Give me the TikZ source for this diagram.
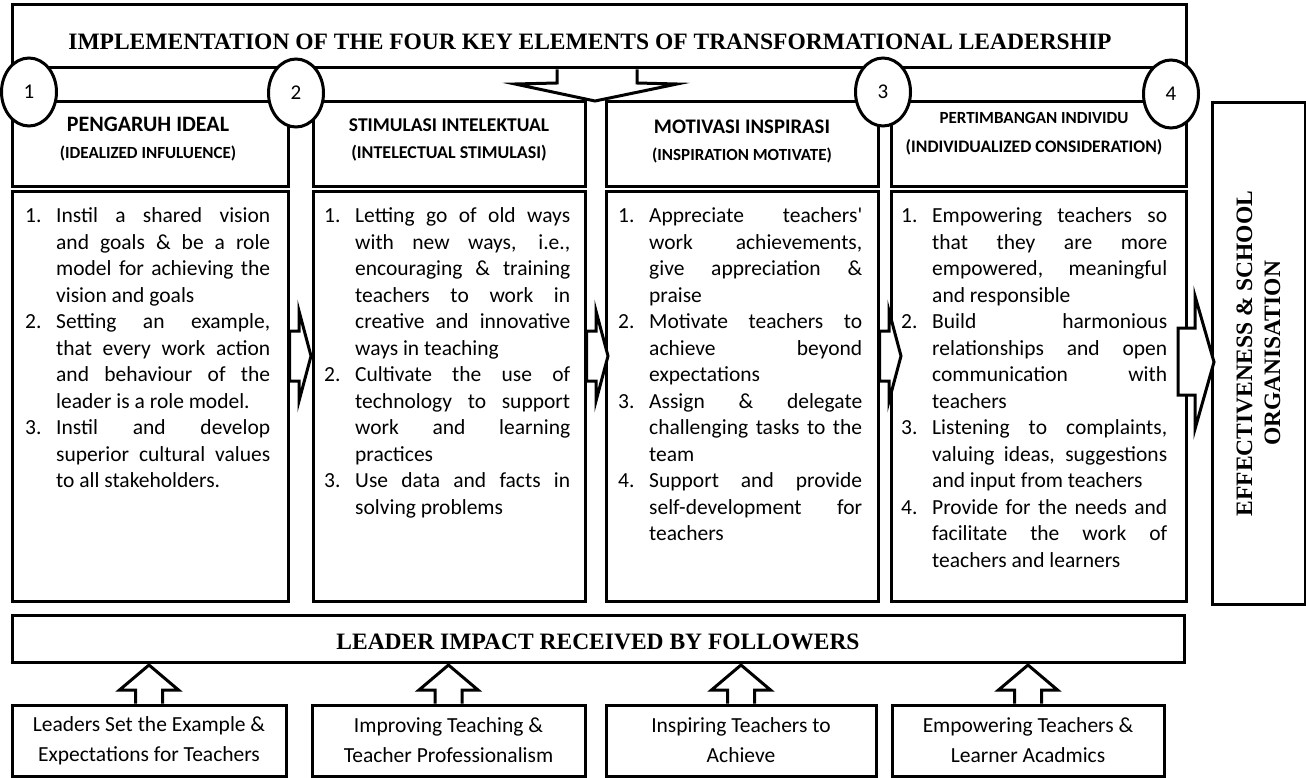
\documentclass[tikz,border=0pt]{standalone}
\usepackage{fontspec}
\setmainfont{Carlito}
\newfontfamily\timesfont{Liberation Serif}
\usepackage{enumitem}
\usetikzlibrary{calc}
\usetikzlibrary{positioning}
\usetikzlibrary{shapes.geometric}

\tolerance=10000
\hbadness=10000
\hyphenpenalty=10000
\exhyphenpenalty=10000

\newcommand{\bodyfont}{\fontsize{21.5}{26.5}\selectfont}
\newcommand{\footfont}{\fontsize{21.5}{30}\selectfont}
\newcommand{\bigtitle}{\timesfont\bfseries\fontsize{23.5}{28}\selectfont}
\setlist[enumerate]{label=\arabic*.,leftmargin=31pt,labelwidth=20pt,labelsep=11pt,align=left,topsep=0pt,partopsep=0pt,itemsep=0pt,parsep=0pt}

\tikzset{
  frame/.style={draw, line width=3pt, fill=white, inner sep=0pt, outer sep=0pt},
  ring/.style={ellipse, draw, line width=3pt, fill=white, minimum width=55, minimum height=68, inner sep=0pt, font=\fontsize{21}{24}\selectfont},
  fatarrow/.style={draw, line width=3pt, fill=white, line join=miter},
  listtext/.style={anchor=north west, inner sep=0pt, align=justify, text width=#1, font=\bodyfont},
  headtxt/.style={anchor=base, inner sep=0pt},
}

\begin{document}
\begin{tikzpicture}[x=1pt,y=-1pt]
\useasboundingbox (0,0) rectangle (1306,778);

% top banner
\node[frame, minimum width=1174, minimum height=63] (banner) at (599,36.5) {};
\node[font=\bigtitle, inner sep=0pt] (bannertxt) at (590,41.5) {IMPLEMENTATION OF THE FOUR KEY ELEMENTS OF TRANSFORMATIONAL LEADERSHIP};
\draw[fatarrow] ($(banner.south)+(-42,1.5)$) -- ($(banner.south)+(-42,15)$) -- ($(banner.south)+(-84,16)$) -- ($(banner.south)+(-4,33)$) -- ($(banner.south)+(78,16)$) -- ($(banner.south)+(38,15)$) -- ($(banner.south)+(38,1.5)$);

% header boxes
\node[frame, minimum width=276, minimum height=85] (head1) at (150,144.5) {};
\node[frame, minimum width=272, minimum height=85] (head2) at (449,144.5) {};
\node[frame, minimum width=272, minimum height=85] (head3) at (742,144.5) {};
\node[frame, minimum width=295, minimum height=85] (head4) at (1038.5,144.5) {};

\node[headtxt, font=\bfseries\fontsize{22}{26}\selectfont] (head1top) at (148,132) {PENGARUH IDEAL};
\node[headtxt, font=\bfseries\fontsize{17}{20}\selectfont] (head1sub) at (148,158.5) {(IDEALIZED INFULUENCE)};
\node[headtxt, font=\bfseries\fontsize{19.5}{23}\selectfont] (head2top) at (449,131.5) {STIMULASI INTELEKTUAL};
\node[headtxt, font=\bfseries\fontsize{18}{21}\selectfont] (head2sub) at (449,158.5) {(INTELECTUAL STIMULASI)};
\node[headtxt, font=\bfseries\fontsize{20.7}{24}\selectfont] (head3top) at (742,133.5) {MOTIVASI INSPIRASI};
\node[headtxt, font=\bfseries\fontsize{17}{20}\selectfont] (head3sub) at (742,160.5) {(INSPIRATION MOTIVATE)};
\node[headtxt, font=\bfseries\fontsize{17}{20}\selectfont] (head4top) at (1034,123.5) {PERTIMBANGAN INDIVIDU};
\node[headtxt, font=\bfseries\fontsize{17.6}{20}\selectfont] (head4sub) at (1034,152.5) {(INDIVIDUALIZED CONSIDERATION)};

% numbers
\node[ring] (ring1) at (29,92) {1};
\node[ring] (ring2) at (296,93) {2};
\node[ring] (ring3) at (883,92) {3};
\node[ring] (ring4) at (1171,94) {4};

% body boxes
\node[frame, minimum width=276, minimum height=409] (body1) at (150,396.5) {};
\node[frame, minimum width=272, minimum height=409] (body2) at (449,396.5) {};
\node[frame, minimum width=272, minimum height=409] (body3) at (742,396.5) {};
\node[frame, minimum width=295, minimum height=409] (body4) at (1038.5,396.5) {};

\node[listtext=245pt] (body1txt) at (25,196) {%
\begin{enumerate}
\item Instil a shared vision\linebreak and goals \& be a role\linebreak model for achieving the\linebreak vision and goals
\item Setting an example,\linebreak that every work action\linebreak and behaviour of the\linebreak leader is a role model.
\item Instil and develop\linebreak superior cultural values\linebreak to all stakeholders.
\end{enumerate}};

\node[listtext=246pt] (body2txt) at (324,196) {%
\begin{enumerate}
\item Letting go of old ways\linebreak with new ways, i.e.,\linebreak encouraging \& training\linebreak teachers to work in\linebreak creative and innovative\linebreak ways in teaching
\item Cultivate the use of\linebreak technology to support\linebreak work and learning\linebreak practices
\item Use data and facts in\linebreak solving problems
\end{enumerate}};

\node[listtext=244pt] (body3txt) at (618,196) {%
\begin{enumerate}
\item Appreciate teachers\textquotesingle\linebreak work achievements,\linebreak give appreciation \&\linebreak praise
\item Motivate teachers to\linebreak achieve beyond\linebreak expectations
\item Assign \& delegate\linebreak challenging tasks to the\linebreak team
\item Support and provide\linebreak self-development for\linebreak teachers
\end{enumerate}};

\node[listtext=266pt] (body4txt) at (901,196) {%
\begin{enumerate}
\item Empowering teachers so\linebreak that they are more\linebreak empowered, meaningful\linebreak and responsible
\item Build harmonious\linebreak relationships and open\linebreak communication with\linebreak teachers
\item Listening to complaints,\linebreak valuing ideas, suggestions\linebreak and input from teachers
\item Provide for the needs and\linebreak facilitate the work of\linebreak teachers and learners
\end{enumerate}};

% arrows between columns
\foreach \a/\b in {1/2,2/3,3/4}
  \draw[fatarrow] ($(body\a.east)+(1.5,-65.5)$) -- ($(body\a.east)+(11,-65.5)$) -- ($(body\a.east)+(11,-85.5)$) -- ($(body\a.east)+(23,-40.5)$) -- ($(body\a.east)+(11,4.5)$) -- ($(body\a.east)+(11,-15.5)$) -- ($(body\a.east)+(1.5,-15.5)$) -- cycle;

% result box
\node[frame, minimum width=93, minimum height=501] (effect) at (1258.5,353.5) {};
\node[rotate=90, align=center, inner sep=0pt, font=\bigtitle] (effecttxt) at (effect.center) {EFFECTIVENESS \& SCHOOL\\ORGANISATION};
\draw[fatarrow] ($(body4.east)+(-8,-68.5)$) -- ($(body4.east)+(9,-68.5)$) -- ($(body4.east)+(9,-100.5)$) -- ($(effect.west)+(2,8.5)$) -- ($(body4.east)+(9,32.5)$) -- ($(body4.east)+(9,-1.5)$) -- ($(body4.east)+(-8,-1.5)$) -- cycle;

% bottom part
\node[frame, minimum width=1172, minimum height=47] (impact) at (598,638.5) {};
\node[font=\bigtitle, inner sep=0pt] (impacttxt) at (598,641.5) {LEADER IMPACT RECEIVED BY FOLLOWERS};

\node[frame, minimum width=274, minimum height=71, align=center, font=\footfont] (foot1) at (149,740.5) {Leaders Set the Example \&\\Expectations for Teachers};
\node[frame, minimum width=273, minimum height=71, align=center, font=\footfont] (foot2) at (448.5,740.5) {Improving Teaching \&\\Teacher Professionalism};
\node[frame, minimum width=270, minimum height=71, align=center, font=\footfont] (foot3) at (741,740.5) {Inspiring Teachers to\\Achieve};
\node[frame, minimum width=272, minimum height=71, align=center, font=\footfont] (foot4) at (1028,740.5) {Empowering Teachers \&\\Learner Acadmics};

\foreach \n in {1,...,4}
  \draw[fatarrow] ($(foot\n.north)+(-13.5,-1.5)$) -- ($(foot\n.north)+(-13.5,-15)$) -- ($(foot\n.north)+(-29.5,-15)$) -- ($(foot\n.north)+(0,-40)$) -- ($(foot\n.north)+(29.5,-15)$) -- ($(foot\n.north)+(13.5,-15)$) -- ($(foot\n.north)+(13.5,-1.5)$);

\end{tikzpicture}
\end{document}
